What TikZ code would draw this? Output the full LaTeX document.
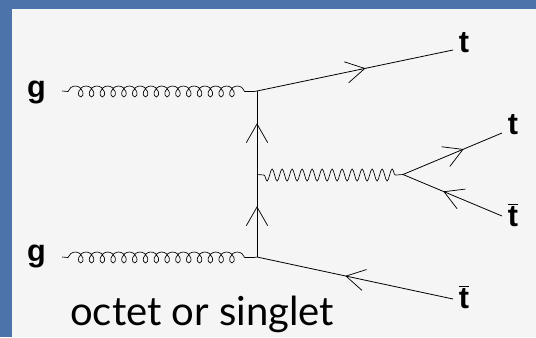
\documentclass[tikz,border=0pt]{standalone}
\usepackage{fontspec}
\setmainfont{Liberation Sans}
\newfontfamily\gillish{Lato}
\usetikzlibrary{decorations.pathmorphing,decorations.markings}
\definecolor{frameblue}{HTML}{4C74AB}
\definecolor{panel}{HTML}{F5F5F5}
\tikzset{
  x=0.75pt,y=-0.75pt,
  fermion/.style={draw=black,line width=0.6pt,postaction={decorate},decoration={markings,mark=at position #1 with {\draw[line width=0.55pt] (-14pt,8pt) -- (0,0) -- (-14pt,-8pt);}}},
  gluon/.style={draw=black,line width=0.5pt},
  coilpart/.style={decoration={coil,aspect=0.85,amplitude=4.1pt,segment length=8.1pt}},
  boson/.style={draw=black,line width=0.5pt},
  snakepart/.style={decoration={snake,amplitude=4.5pt,segment length=7.5pt,mirror}},
  lab/.style={font=\bfseries\fontsize{23}{23}\selectfont,text=black,inner sep=0pt}
}
\begin{document}
\begin{tikzpicture}
\useasboundingbox (0,0) rectangle (536,337);
\fill[frameblue] (0,0) rectangle (536,337);
\fill[panel] (12,9) rectangle (536,337);
\coordinate (g1s) at (62,91);
\coordinate (g2s) at (62,257);
\coordinate (v1) at (257,91);
\coordinate (v2) at (257,257);
\coordinate (vm) at (257,174.5);
\coordinate (vr) at (403,174.5);
\coordinate (e1) at (453,50);
\coordinate (e2) at (502,133);
\coordinate (e3) at (502,216);
\coordinate (e4) at (453,299);
\coordinate (c1a) at (68,91.5);
\coordinate (c1b) at (254,91.5);
\coordinate (c2a) at (68,257.5);
\coordinate (c2b) at (254,257.5);
\coordinate (sa) at (264,175);
\coordinate (sb) at (396,175);
\node[lab] (g1) at (36.5,92) {g};
\node[lab] (g2) at (36.5,256.5) {g};
\node[lab] (t1) at (464,43) {t};
\node[lab] (t2) at (513,125) {t};
\node[lab] (t3) at (513,215) {$\overline{\mbox{t}}$};
\node[lab] (t4) at (464,297) {$\overline{\mbox{t}}$};
\node[anchor=base west,inner sep=0pt,font=\gillish\fontsize{30}{30}\selectfont,text=black] (cap) at (70,325) {octet or singlet};
\draw[gluon,coilpart] (g1s) -- (c1a) decorate {-- (c1b)} -- (v1);
\draw[gluon,coilpart] (g2s) -- (c2a) decorate {-- (c2b)} -- (v2);
\draw[boson,snakepart] (vm) -- (sa) decorate {-- (sb)} -- (vr);
\path[fermion=0.55] (v1) -- (e1);
\path[fermion=0.606] (v2) -- (vm);
\path[fermion=0.605] (vm) -- (v1);
\path[fermion=0.606] (vr) -- (e2);
\path[fermion=0.586] (e3) -- (vr);
\path[fermion=0.546] (e4) -- (v2);
\end{tikzpicture}
\end{document}
